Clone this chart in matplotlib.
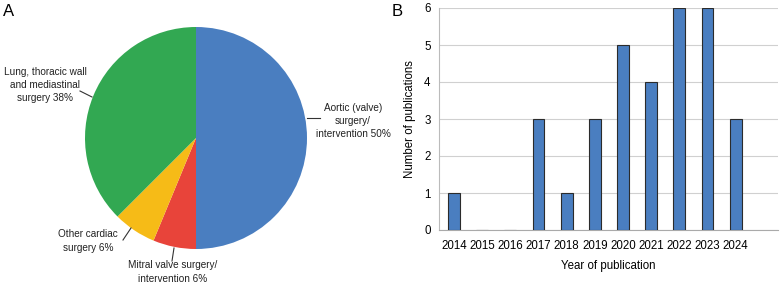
import matplotlib
matplotlib.use("Agg")
import matplotlib.pyplot as plt
import numpy as np

plt.rcParams['font.family'] = ['Liberation Sans', 'DejaVu Sans']

# Pie data
pie_labels = ["Aortic (valve)\nsurgery/\nintervention 50%",
              "Mitral valve surgery/\nintervention 6%",
              "Other cardiac\nsurgery 6%",
              "Lung, thoracic wall\nand mediastinal\nsurgery 38%"]
pie_values = [16, 2, 2, 12]
pie_colors = ["#4a7ec0", "#e8443a", "#f6bb17", "#32a852"]

# Bar data
years = ["2014", "2015", "2016", "2017", "2018", "2019", "2020", "2021", "2022", "2023", "2024"]
counts = [1, 0, 0, 3, 1, 3, 5, 4, 6, 6, 3]

W, H = 780, 285
fig = plt.figure(figsize=(7.8, 2.85), dpi=100)

# ---- Pie ----
cx, cy, r = 196, 138, 111
axp = fig.add_axes([(cx - r) / W, 1 - (cy + r) / H, 2 * r / W, 2 * r / H])
wedges, _ = axp.pie(pie_values, colors=pie_colors, startangle=90, counterclock=False,
                    radius=1, wedgeprops=dict(linewidth=0))
axp.set_xlim(-1, 1)
axp.set_ylim(-1, 1)
axp.set_aspect('equal')
axp.axis('off')

def px2data(x, y):
    return ((x - cx) / r, -(y - cy) / r)

pfs = 7.2
fs = 8.3
# label text position (px), leader start (px), leader end (px)
label_specs = [
    (pie_labels[0], (353, 121), (307, 118), (320, 118)),
    (pie_labels[1], (173, 272), (174, 248), (172, 261)),
    (pie_labels[2], (88, 241), (131, 228), (123, 240)),
    (pie_labels[3], (45, 85), (92, 97), (80, 91)),
]
for txt, tpos, p0, p1 in label_specs:
    x0, y0 = px2data(*p0)
    x1, y1 = px2data(*p1)
    axp.plot([x0, x1], [y0, y1], color="#333333", lw=0.8, clip_on=False)
    tx, ty = px2data(*tpos)
    axp.text(tx, ty, txt, ha='center', va='center', fontsize=pfs, color="#222222",
             linespacing=1.4, clip_on=False)

fig.text(3 / W, 1 - 12 / H, "A", fontsize=12, va='center', ha='left')
fig.text(392 / W, 1 - 12 / H, "B", fontsize=12, va='center', ha='left')

# ---- Bars ----
left, right, top, bottom = 439, 778, 8, 230
axb = fig.add_axes([left / W, 1 - bottom / H, (right - left) / W, (bottom - top) / H])
x = np.arange(len(years))
axb.bar(x, counts, width=0.42, color="#4a7ec0", edgecolor="#2b2b2b", linewidth=0.8, zorder=3)
axb.set_xlim(-0.53, 11.5)
axb.set_ylim(0, 6)
axb.set_xticks(x)
axb.set_xticklabels(years, fontsize=fs)
axb.set_yticks(range(7))
axb.tick_params(axis='y', labelsize=fs, length=0, pad=6)
axb.tick_params(axis='x', length=0, pad=7)
axb.yaxis.grid(True, color="#d0d0d0", lw=0.8, zorder=0)
for s in ['top', 'right']:
    axb.spines[s].set_visible(False)
axb.spines['left'].set_color("#bbbbbb")
axb.spines['bottom'].set_color("#aaaaaa")
axb.set_ylabel("Number of publications", fontsize=fs, labelpad=6)
axb.set_xlabel("Year of publication", fontsize=fs, labelpad=6)

fig.savefig("out.png", dpi=100)
